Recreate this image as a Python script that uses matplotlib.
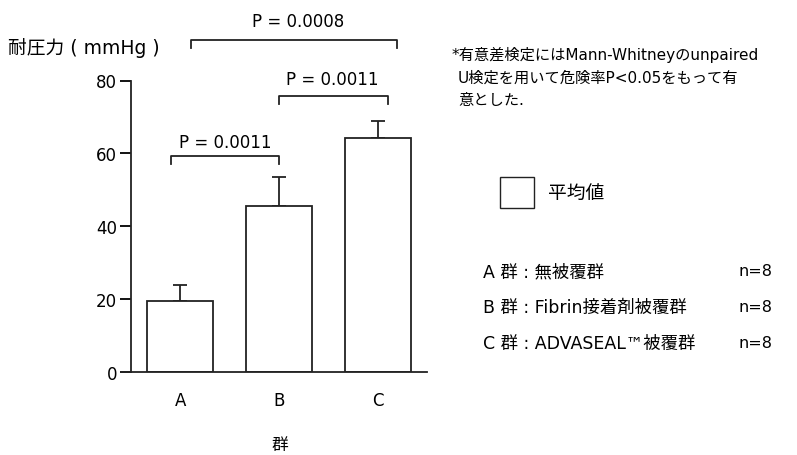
import matplotlib
matplotlib.use("Agg")
import matplotlib.pyplot as plt
from matplotlib.patches import Rectangle

plt.rcParams['font.family'] = ['DejaVu Sans', 'Noto Sans CJK JP']

# data
groups = ['A', 'B', 'C']
means = [19.6, 45.5, 64.2]
sd_upper = [4.3, 8.0, 4.7]
comparisons = [('A', 'B', 'P = 0.0011'), ('B', 'C', 'P = 0.0011'), ('A', 'C', 'P = 0.0008')]
yticks = [0, 20, 40, 60, 80]
ylabel = '耐圧力 ( mmHg )'
xlabel = '群'
note_lines = ['*有意差検定にはMann-Whitneyのunpaired',
              'U検定を用いて危険率P<0.05をもって有',
              '意とした.']
legend_label = '平均値'
group_desc = ['A 群 : 無被覆群', 'B 群 : Fibrin接着剤被覆群', 'C 群 : ADVASEAL™被覆群']
group_n = ['n=8', 'n=8', 'n=8']

W, H = 797, 456
fig = plt.figure(figsize=(W / 100, H / 100), dpi=100)
ax = fig.add_axes([131 / W, 1 - 373 / H, 296 / W, 291.5 / H])


def px(x, y):
    return x / W, 1 - y / H


lw = 1.3
xs = list(range(len(groups)))
ax.bar(xs, means, width=0.67, color='white', edgecolor='#222222', linewidth=lw, zorder=2)
ax.errorbar(xs, means, yerr=[[0] * 3, sd_upper], fmt='none', ecolor='#222222',
            elinewidth=lw, capsize=5, capthick=lw, zorder=1)

ax.set_xlim(-0.5, 2.5)
ax.set_ylim(0, 80)
ax.set_yticks(yticks)
ax.set_xticks(xs)
ax.set_xticklabels(groups, fontsize=12)
ax.tick_params(axis='x', length=0, pad=14)
ax.tick_params(axis='y', length=8, width=lw, labelsize=12, pad=2)
for s in ['top', 'right']:
    ax.spines[s].set_visible(False)
for s in ['left', 'bottom']:
    ax.spines[s].set_linewidth(lw)
    ax.spines[s].set_color('#222222')
ax.spines['bottom'].set_bounds(-0.6, 2.5)

# significance brackets (x extents, bar height, text position)
bracket_geom = [(-0.095, 1.0, 59.3, 0.46, 63.2),
                (1.0, 2.1, 75.8, 1.54, 80.4),
                (0.11, 2.2, 91.0, 1.19, 96.4)]
for (g1, g2, label), (x0, x1, yb, xt, yt) in zip(comparisons, bracket_geom):
    ax.plot([x0, x0, x1, x1], [yb - 2.2, yb, yb, yb - 2.2], color='#222222',
            lw=lw, clip_on=False)
    ax.text(xt, yt, label, ha='center', va='center', fontsize=12, clip_on=False)

fig.text(*px(8, 48), ylabel, fontsize=13.5, ha='left', va='center')
fig.text(*px(280, 445), xlabel, fontsize=12, ha='center', va='center')

for line, x, y in zip(note_lines, [452, 458, 458], [55, 78, 100]):
    fig.text(*px(x, y), line, fontsize=11, ha='left', va='center')

fig.patches.append(Rectangle(px(500, 209), 34 / W, 31 / H, transform=fig.transFigure,
                             facecolor='white', edgecolor='#222222', linewidth=1.0))
fig.text(*px(548, 193), legend_label, fontsize=13.5, ha='left', va='center')

for desc, n, y in zip(group_desc, group_n, [272, 308, 344]):
    fig.text(*px(483, y), desc, fontsize=12.5, ha='left', va='center')
    fig.text(*px(738, y), n, fontsize=11.5, ha='left', va='center')

fig.savefig('out.png', dpi=100)
